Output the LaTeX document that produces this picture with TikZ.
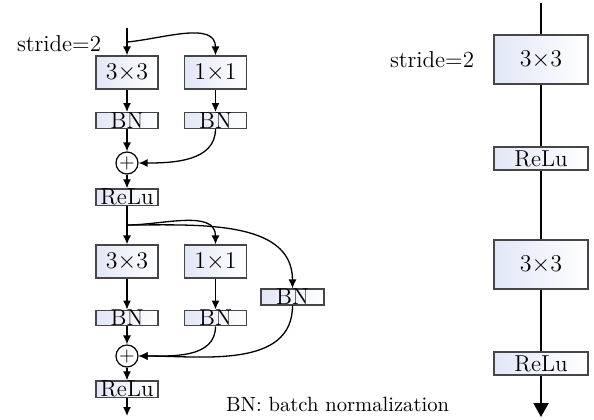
\documentclass[tikz,border=0pt]{standalone}
\usetikzlibrary{arrows.meta}
\definecolor{boxblue}{RGB}{226,231,247}
\definecolor{edgegray}{RGB}{70,70,70}
\tikzset{
	conv/.style={draw=edgegray, line width=0.6pt, left color=boxblue, right color=white, inner sep=0pt, minimum width=31pt, minimum height=16.5pt, font=\fontsize{11.5}{13}\selectfont},
	bnbox/.style={conv, minimum height=7.5pt},
	bigconv/.style={conv, line width=1pt, minimum width=47pt, minimum height=24.5pt},
	bigrelu/.style={bigconv, minimum height=11.5pt},
	addnode/.style={circle, draw, line width=0.6pt, fill=white, inner sep=0pt, minimum size=11pt},
	flow/.style={line width=0.65pt, -{Latex[length=4.5pt,width=4pt]}},
}
\begin{document}
\begin{tikzpicture}[x=0.5pt, y=-0.5pt]
	\useasboundingbox (0,0) rectangle (594,419);
	% left block
	\coordinate (in1) at (127,28);
	\coordinate (split1) at (127,42);
	\node [conv] (c1) at (127,72.5) {$3{\times}3$};
	\node [conv] (d1) at (215.5,72.5) {$1{\times}1$};
	\node [bnbox] (bn1) at (127,120.5) {BN};
	\node [bnbox] (bn2) at (215.5,120.5) {BN};
	\node [addnode] (p1) at (127,163) {$+$};
	\node [bnbox, minimum height=8pt] (r1) at (127,197) {ReLu};
	\coordinate (split2) at (127,225);
	\node [conv] (c2) at (127,261.5) {$3{\times}3$};
	\node [conv] (d2) at (215.5,261.5) {$1{\times}1$};
	\node [bnbox, minimum width=31.5pt, minimum height=8pt] (bn5) at (292.5,297) {BN};
	\node [bnbox] (bn3) at (127,318) {BN};
	\node [bnbox] (bn4) at (215.5,318) {BN};
	\node [addnode] (p2) at (127,356) {$+$};
	\node [bnbox, minimum height=8pt] (r2) at (127,389) {ReLu};
	\coordinate (out1) at (127,416);
	\draw [flow] (in1) -- (c1);
	\draw [flow] (split1) to[out=5,in=90] (d1.north);
	\draw [flow] (c1) -- (bn1);
	\draw [flow] (d1) -- (bn2);
	\draw [flow] (bn1) -- (p1);
	\draw [flow] (bn2.south) to[out=-90,in=0] (p1.east);
	\draw [flow] (p1) -- (r1);
	\draw [flow] (r1) -- (c2);
	\draw [flow] (split2) to[out=0,in=90] (d2.north);
	\draw [flow] (split2) to[out=0,in=90] (bn5.north);
	\draw [flow] (c2) -- (bn3);
	\draw [flow] (d2) -- (bn4);
	\draw [flow] (bn3) -- (p2);
	\draw [flow] (bn4.south) to[out=-90,in=0] (p2.east);
	\draw [flow] (bn5.south) to[out=-90,in=0] (p2.east);
	\draw [flow] (p2) -- (r2);
	\draw [flow] (r2) -- (out1);
	\node [anchor=west, font=\fontsize{11.5}{13}\selectfont] (s1) at (10,44) {stride=2};
	\node [anchor=west, font=\fontsize{10.3}{12}\selectfont] (note) at (219,404) {BN: batch normalization};
	% right block
	\coordinate (in2) at (541,3);
	\node [bigconv] (rc1) at (541,59.5) {$3{\times}3$};
	\node [bigrelu] (rr1) at (541,158.5) {ReLu};
	\node [bigconv] (rc2) at (541,264.5) {$3{\times}3$};
	\node [bigrelu] (rr2) at (541,363.5) {ReLu};
	\coordinate (out2) at (541,417);
	\draw [line width=1pt] (in2) -- (rc1) -- (rr1) -- (rc2) -- (rr2);
	\draw [line width=1pt, -{Triangle[length=7pt,width=7.5pt]}] (rr2) -- (out2);
	\node [anchor=west, font=\fontsize{11.5}{13}\selectfont] (s2) at (383,60) {stride=2};
\end{tikzpicture}
\end{document}
